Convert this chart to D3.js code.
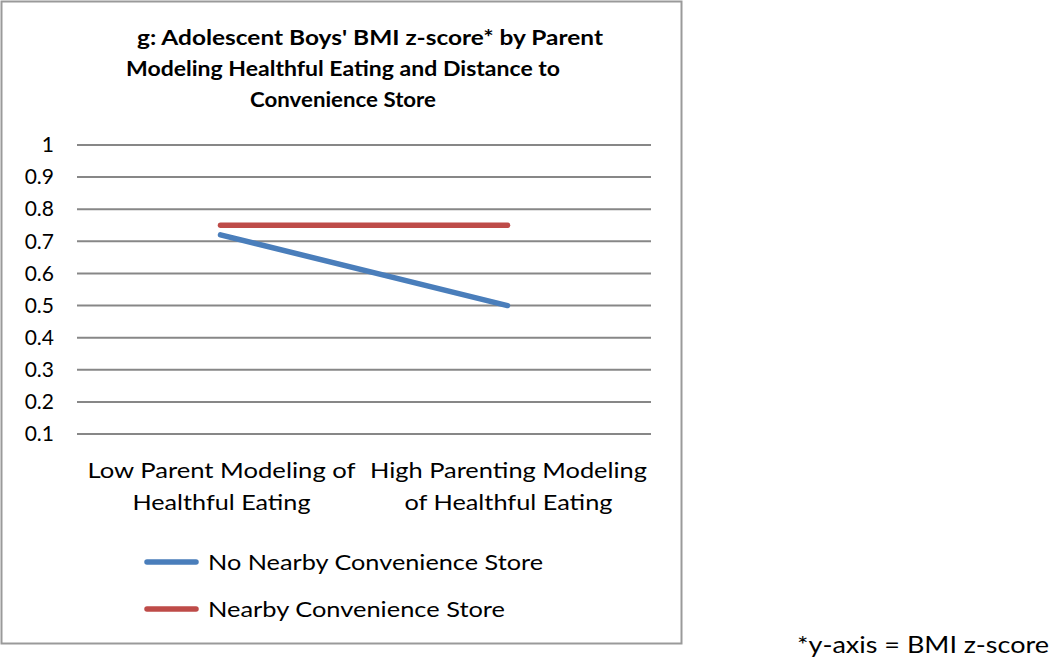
<!DOCTYPE html>
<html>
<head>
<meta charset="utf-8">
<script src="https://cdn.jsdelivr.net/npm/d3@7"></script>
<style>
  body { margin: 0; background: #fff; }
  svg { display: block; }
  text { font-family: Lato, "Open Sans", sans-serif; fill: #000; }
</style>
</head>
<body>
<div id="chart"></div>
<script>
// data
const categories = ['low', 'high']
const categoryLabels = [
  ['Low Parent Modeling of', 'Healthful Eating'],
  ['High Parenting Modeling', 'of Healthful Eating']
]
const seriesNames = ['No Nearby Convenience Store', 'Nearby Convenience Store']
const noNearbyValues = [0.72, 0.50]
const nearbyValues = [0.75, 0.75]
const yTicks = [0.1, 0.2, 0.3, 0.4, 0.5, 0.6, 0.7, 0.8, 0.9, 1]
const titleLines = [
  "g: Adolescent  Boys' BMI z-score* by Parent",
  'Modeling  Healthful Eating and Distance to',
  'Convenience  Store'
]
const footnote = '*y-axis = BMI z-score'

const colors = ['#4a7ebb', '#be4b48']

const width = 1050, height = 662
const plot = { left: 77, right: 651, top: 145, bottom: 434 }

const svg = d3.select('#chart').append('svg')
  .attr('width', width)
  .attr('height', height)

// chart frame
svg.append('rect')
  .attr('x', 1.5).attr('y', 1.5)
  .attr('width', 680).attr('height', 642)
  .attr('fill', 'none')
  .attr('stroke', '#9a9a9a')
  .attr('stroke-width', 2)

// title, each line placed by its left edge
const titlePos = [
  { x: 137, y: 45, w: 466 },
  { x: 126, y: 76, w: 434 },
  { x: 250, y: 107, w: 186 }
]
svg.selectAll('.title')
  .data(titleLines)
  .enter()
  .append('text')
  .attr('class', 'title')
  .attr('x', (d, i) => titlePos[i].x)
  .attr('y', (d, i) => titlePos[i].y)
  .attr('textLength', (d, i) => titlePos[i].w)
  .attr('lengthAdjust', 'spacingAndGlyphs')
  .style('font-size', '20px')
  .style('font-weight', 'bold')
  .text(d => d)

const x = d3.scaleBand()
  .domain(categories)
  .range([plot.left, plot.right])

const y = d3.scaleLinear()
  .domain([0.1, 1])
  .range([plot.bottom, plot.top])

// gridlines
svg.append('g')
  .selectAll('line')
  .data(yTicks)
  .enter()
  .append('line')
  .attr('x1', plot.left)
  .attr('x2', plot.right)
  .attr('y1', d => y(d))
  .attr('y2', d => y(d))
  .attr('stroke', '#878787')
  .attr('stroke-width', 2)

// y axis labels
const yAxis = d3.axisLeft(y)
  .tickValues(yTicks)
  .tickFormat(d3.format('~g'))
  .tickSize(0)
  .tickPadding(0)

const yG = svg.append('g')
  .attr('transform', `translate(${54},0)`)
  .call(yAxis)
yG.select('.domain').remove()
yG.selectAll('text')
  .style('font-family', 'Lato, "Open Sans", sans-serif')
  .style('font-size', '21px')
  .attr('fill', '#000')

// category labels
const catLineW = [[268, 178], [277, 208]]
categories.forEach((c, i) => {
  const cx = x(c) + x.bandwidth() / 2 + 1
  categoryLabels[i].forEach((line, j) => {
    svg.append('text')
      .attr('x', cx)
      .attr('y', 478 + j * 32)
      .attr('text-anchor', 'middle')
      .attr('textLength', catLineW[i][j])
      .attr('lengthAdjust', 'spacingAndGlyphs')
      .style('font-size', '21px')
      .text(line)
  })
})

// series lines
const series = [noNearbyValues, nearbyValues]
const line = d3.line()
  .x((d, i) => x(categories[i]) + x.bandwidth() / 2)
  .y(d => y(d))

svg.selectAll('.series')
  .data(series)
  .enter()
  .append('path')
  .attr('class', 'series')
  .attr('d', d => line(d))
  .attr('fill', 'none')
  .attr('stroke', (d, i) => colors[i])
  .attr('stroke-width', 5.5)
  .attr('stroke-linecap', 'round')

// legend
const legendW = [335, 297]
const legend = svg.selectAll('.legend')
  .data(seriesNames)
  .enter()
  .append('g')
  .attr('class', 'legend')
  .attr('transform', (d, i) => `translate(0,${562 + i * 47})`)

legend.append('line')
  .attr('x1', 147).attr('x2', 196)
  .attr('y1', 0).attr('y2', 0)
  .attr('stroke', (d, i) => colors[i])
  .attr('stroke-width', 5.5)
  .attr('stroke-linecap', 'round')

legend.append('text')
  .attr('x', 208)
  .attr('y', 8)
  .attr('textLength', (d, i) => legendW[i])
  .attr('lengthAdjust', 'spacingAndGlyphs')
  .style('font-size', '22px')
  .text(d => d)

// footnote outside the frame
svg.append('text')
  .attr('x', 797)
  .attr('y', 653)
  .attr('textLength', 252)
  .attr('lengthAdjust', 'spacingAndGlyphs')
  .style('font-size', '23px')
  .text(footnote)
</script>
</body>
</html>
